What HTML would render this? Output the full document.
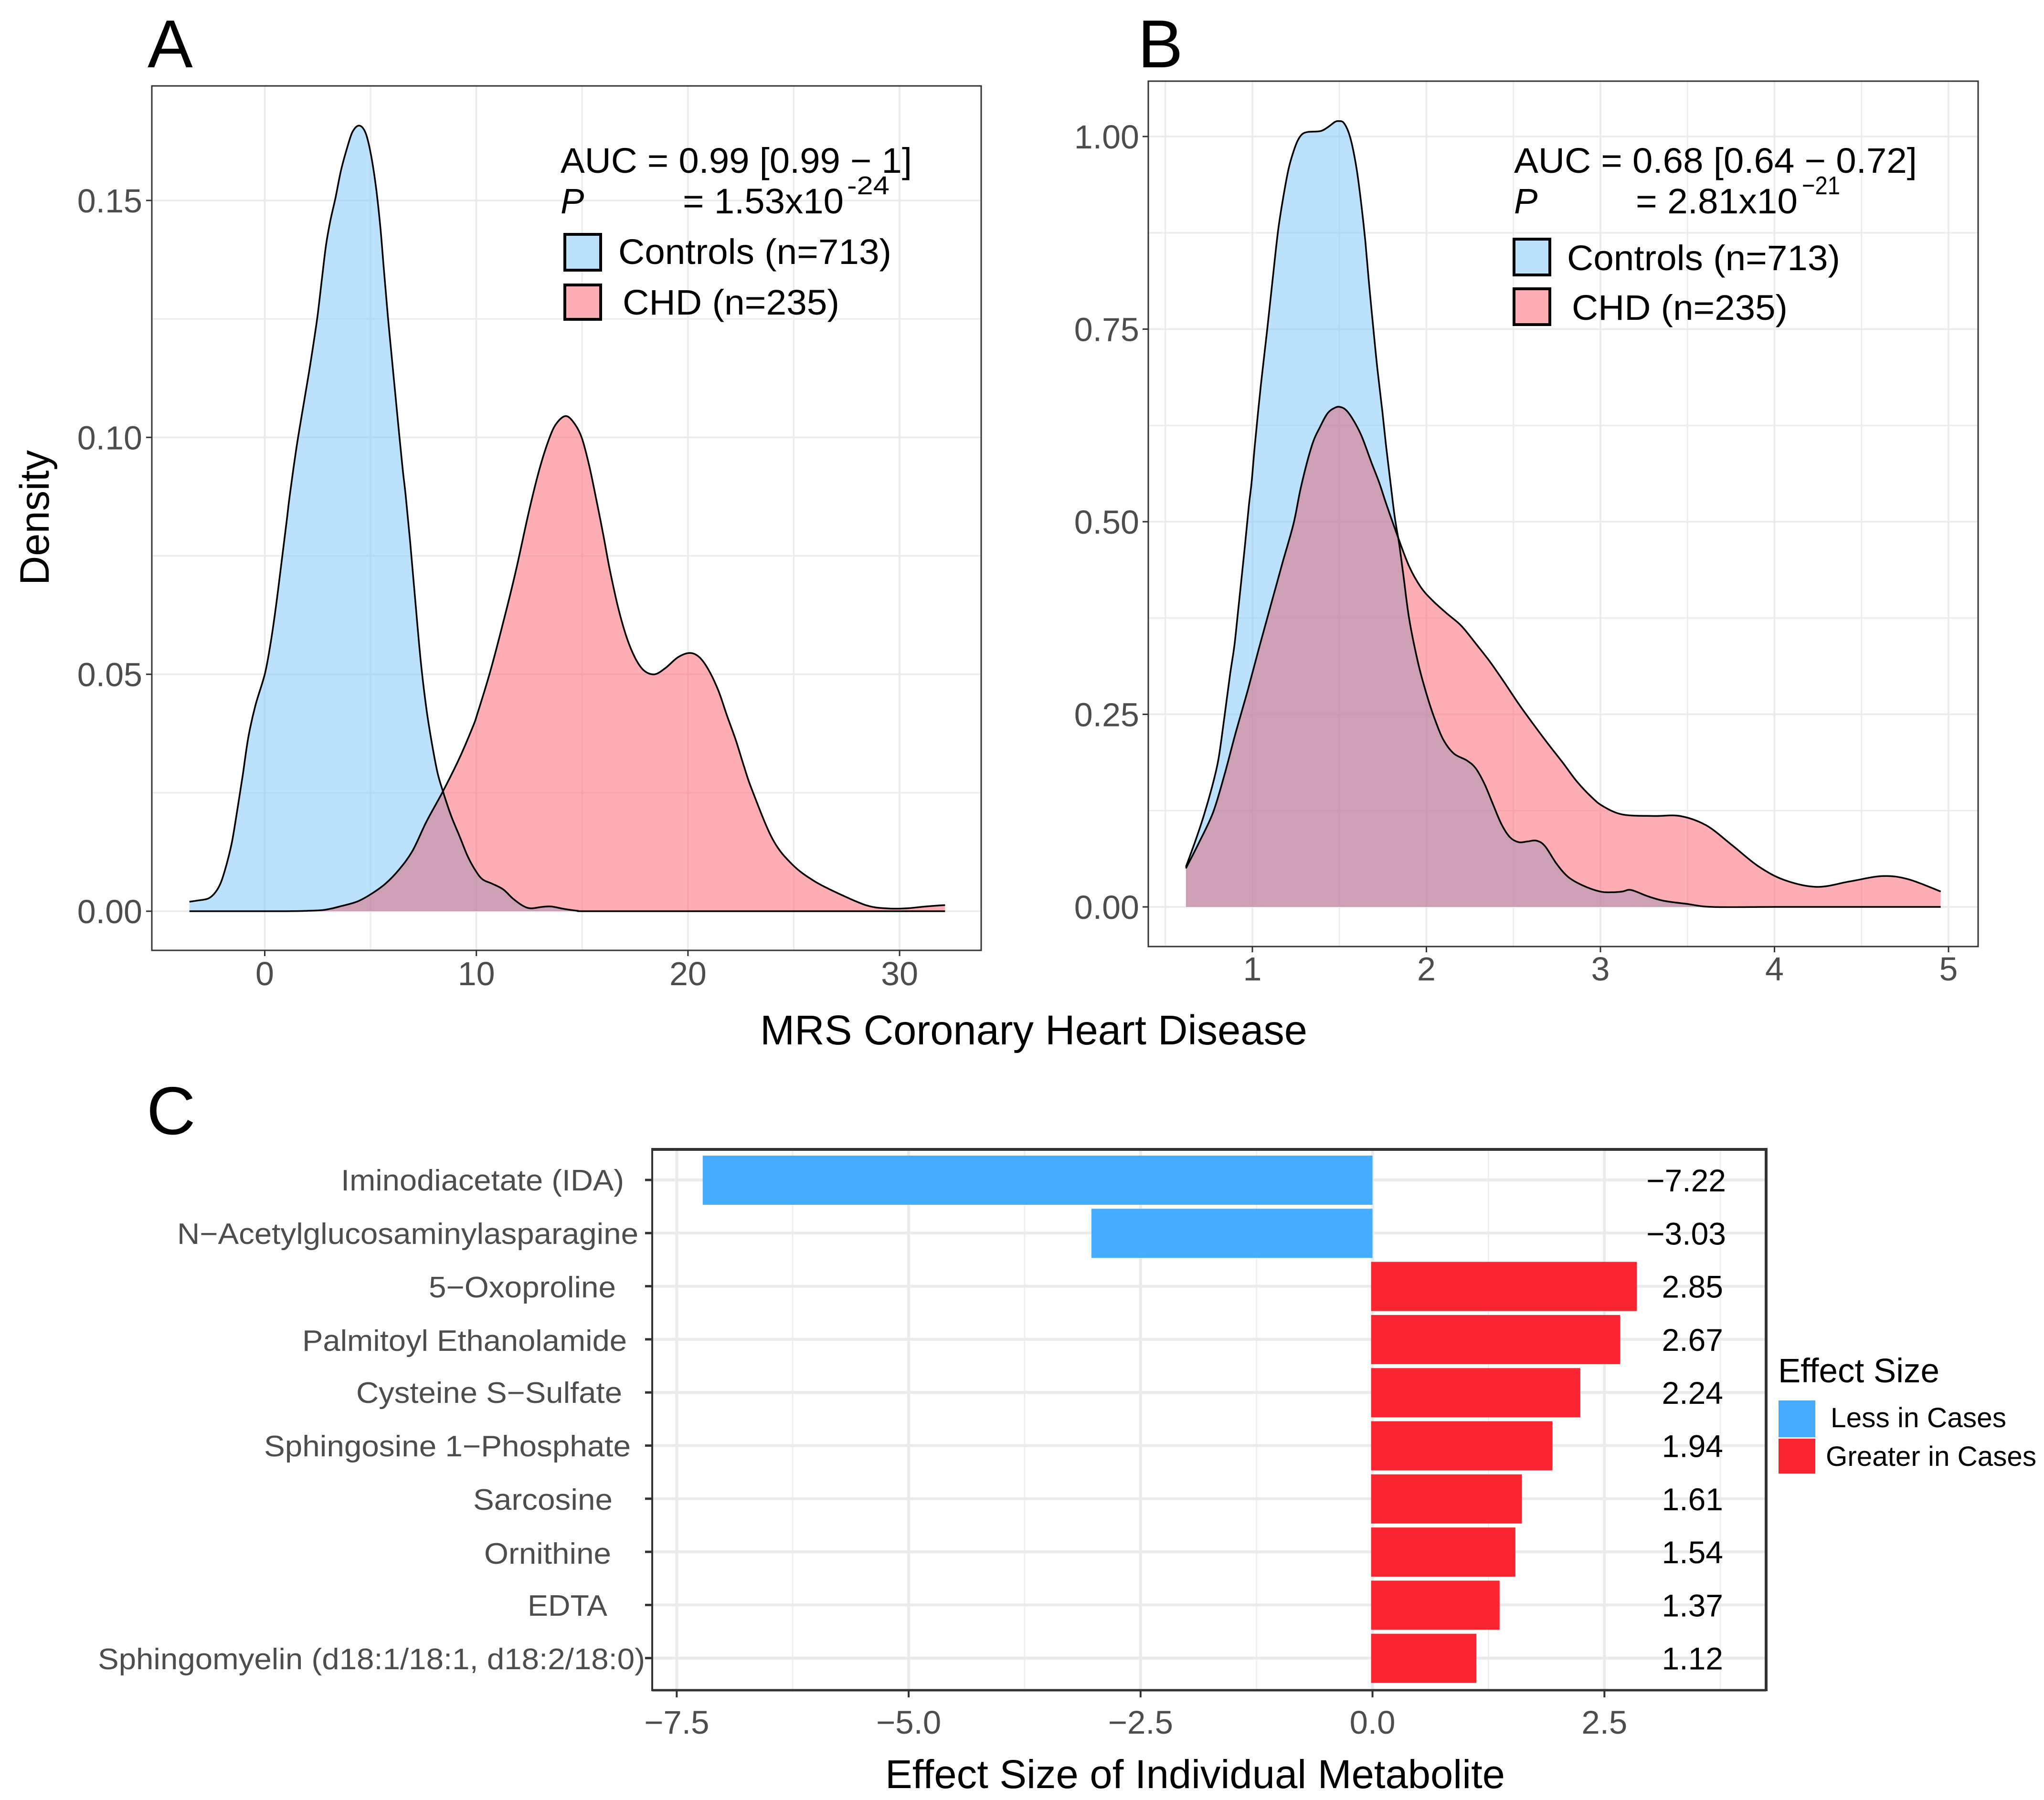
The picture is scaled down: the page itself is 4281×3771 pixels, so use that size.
<!DOCTYPE html>
<html lang="en">
<head>
<meta charset="utf-8">
<title>MRS Coronary Heart Disease density plots and metabolite effect sizes</title>
<style>
html,body{margin:0;padding:0;background:#fff;}
svg{display:block;}
text{font-family:"Liberation Sans",sans-serif;}
</style>
</head>
<body>
<svg id="figure" xmlns="http://www.w3.org/2000/svg" width="4281" height="3771" viewBox="0 0 4281 3771">
<rect x="0" y="0" width="4281" height="3771" fill="#ffffff"/>

<g id="panelA"></g>
<g id="panelB"></g>
<g id="panelC"></g>

<text x="309" y="141" font-size="142" fill="#000">A</text>
<text x="2383" y="141" font-size="142" fill="#000">B</text>
<text x="307" y="2376" font-size="142" fill="#000">C</text>

<text transform="translate(102 1226) rotate(-90)" font-size="86" fill="#000" textLength="283" lengthAdjust="spacingAndGlyphs">Density</text>
<text x="1592" y="2188" font-size="87" fill="#000" textLength="1146" lengthAdjust="spacingAndGlyphs">MRS Coronary Heart Disease</text>

<g fill="#000">
<text x="1174" y="362" font-size="74" textLength="736" lengthAdjust="spacingAndGlyphs">AUC = 0.99 [0.99 − 1]</text>
<text x="1174" y="447" font-size="74" font-style="italic">P</text>
<text x="1430" y="447" font-size="74" textLength="337" lengthAdjust="spacingAndGlyphs">= 1.53x10</text>
<text x="1774" y="407" font-size="54" textLength="89" lengthAdjust="spacingAndGlyphs">-24</text>
<rect x="1183" y="491" width="75" height="75" fill="#BBE1FD" stroke="#000" stroke-width="6"/>
<rect x="1183" y="597" width="75" height="72" fill="#FDAEB4" stroke="#000" stroke-width="6"/>
<text x="1295" y="553" font-size="74" textLength="572" lengthAdjust="spacingAndGlyphs">Controls (n=713)</text>
<text x="1304" y="659" font-size="74" textLength="454" lengthAdjust="spacingAndGlyphs">CHD (n=235)</text>
</g>

<g fill="#000">
<text x="3171" y="362" font-size="74" textLength="844" lengthAdjust="spacingAndGlyphs">AUC = 0.68 [0.64 − 0.72]</text>
<text x="3171" y="447" font-size="74" font-style="italic">P</text>
<text x="3426" y="447" font-size="74" textLength="339" lengthAdjust="spacingAndGlyphs">= 2.81x10</text>
<text x="3774" y="407" font-size="54" textLength="80" lengthAdjust="spacingAndGlyphs">−21</text>
<rect x="3171" y="501" width="75" height="75" fill="#BBE1FD" stroke="#000" stroke-width="6"/>
<rect x="3171" y="605" width="75" height="75" fill="#FDAEB4" stroke="#000" stroke-width="6"/>
<text x="3282" y="566" font-size="74" textLength="572" lengthAdjust="spacingAndGlyphs">Controls (n=713)</text>
<text x="3292" y="670" font-size="74" textLength="452" lengthAdjust="spacingAndGlyphs">CHD (n=235)</text>
</g>

<g fill="#4d4d4d" font-size="62">
<text x="714" y="2494" textLength="593" lengthAdjust="spacingAndGlyphs">Iminodiacetate (IDA)</text>
<text x="371" y="2606" textLength="966" lengthAdjust="spacingAndGlyphs">N−Acetylglucosaminylasparagine</text>
<text x="898" y="2718" textLength="392" lengthAdjust="spacingAndGlyphs">5−Oxoproline</text>
<text x="633" y="2830" textLength="680" lengthAdjust="spacingAndGlyphs">Palmitoyl Ethanolamide</text>
<text x="746" y="2939" textLength="557" lengthAdjust="spacingAndGlyphs">Cysteine S−Sulfate</text>
<text x="553" y="3051" textLength="768" lengthAdjust="spacingAndGlyphs">Sphingosine 1−Phosphate</text>
<text x="991" y="3163" textLength="292" lengthAdjust="spacingAndGlyphs">Sarcosine</text>
<text x="1014" y="3276" textLength="266" lengthAdjust="spacingAndGlyphs">Ornithine</text>
<text x="1105" y="3385" textLength="167" lengthAdjust="spacingAndGlyphs">EDTA</text>
<text x="205" y="3497" textLength="1146" lengthAdjust="spacingAndGlyphs">Sphingomyelin (d18:1/18:1, d18:2/18:0)</text>
</g>

<text x="1854" y="3746" font-size="84" fill="#000" textLength="1298" lengthAdjust="spacingAndGlyphs">Effect Size of Individual Metabolite</text>

<g fill="#000">
<text x="3724" y="2896" font-size="71" textLength="338" lengthAdjust="spacingAndGlyphs">Effect Size</text>
<rect x="3725" y="2934" width="77" height="77" fill="#45ACFF"/>
<rect x="3725" y="3014" width="77" height="73" fill="#F92632"/>
<text x="3834" y="2990" font-size="58" textLength="368" lengthAdjust="spacingAndGlyphs">Less in Cases</text>
<text x="3824" y="3071" font-size="58" textLength="441" lengthAdjust="spacingAndGlyphs">Greater in Cases</text>
</g>
</svg>

<script>
// ---- Panel A data ----
const aControlsX = [-3.56,-3.11,-2.66,-2.33,-2.07,-1.81,-1.55,-1.30,-1.04,-0.78,-0.45,0,0.26,0.52,0.78,1.04,1.18,1.48,1.78,2.09,2.29,2.49,2.69,2.89,3.09,3.35,3.60,3.90,4.15,4.46,4.76,5.01,5.26,5.46,5.61,5.82,5.97,6.17,6.37,6.52,6.66,6.87,7.12,7.38,7.64,7.90,8.16,8.42,8.81,9.20,9.59,9.97,10.30,10.75,11.27,11.72,12.18,12.56,13.08,13.54,14.12,14.77,15.28,20,26,32.15];
const aControlsY = [.0020,.0023,.0027,.0040,.0061,.0098,.0146,.0213,.0287,.0366,.0433,.0500,.0561,.0640,.0732,.0825,.0877,.0973,.1055,.1137,.1194,.1255,.1330,.1404,.1455,.1507,.1563,.1612,.1645,.1658,.1643,.1599,.1527,.1445,.1365,.1255,.1184,.1091,.0999,.0932,.0877,.0780,.0652,.0524,.0427,.0354,.0293,.0253,.0201,.0159,.0116,.0085,.0067,.0058,.0046,.0027,.0012,.0006,.0009,.0010,.0005,.0001,0,0,0,0];
const aChdX = [-3.56,-1,1,2.07,2.85,3.63,4.40,5.05,5.70,6.35,6.99,7.64,8.42,9.20,9.84,10.05,10.65,11.26,11.86,12.47,12.97,13.43,13.78,14.23,14.64,14.99,15.34,15.70,16.00,16.30,16.71,17.11,17.51,17.92,18.42,18.93,19.53,20.09,20.54,20.99,21.45,21.85,22.26,22.66,23.01,23.99,24.92,25.99,27.23,28.46,29.38,30.30,31.23,32.15];
const aChdY = [0,0,0,.0001,.0003,.0011,.0021,.0037,.0058,.0088,.0128,.0189,.0253,.0323,.0390,.0417,.0505,.0608,.0717,.0841,.0931,.0996,.1029,.1045,.1029,.0998,.0939,.0862,.0794,.0722,.0639,.0577,.0534,.0508,.0500,.0513,.0536,.0545,.0536,.0508,.0464,.0412,.0361,.0304,.0258,.0153,.0099,.0063,.0035,.0012,.0006,.0006,.0010,.0013];
const aXTicks = [0,10,20,30];
const aXMinor = [5,15,25];
const aYTicks = [0,0.05,0.10,0.15];
const aYMinor = [0.025,0.075,0.125];
const aYTickLabels = ['0.00','0.05','0.10','0.15'];

// ---- Panel B data ----
const bControlsX = [.618,.673,.723,.773,.806,.839,.872,.897,.922,.955,.980,.996,1.014,1.049,1.084,1.119,1.149,1.182,1.209,1.237,1.261,1.286,1.321,1.391,1.433,1.475,1.499,1.524,1.552,1.575,1.601,1.628,1.649,1.670,1.698,1.719,1.747,1.768,1.793,1.818,1.843,1.868,1.901,1.951,2.001,2.051,2.100,2.158,2.233,2.283,2.333,2.383,2.432,2.482,2.532,2.582,2.632,2.681,2.748,2.814,2.897,2.997,3.063,3.126,3.176,3.270,3.363,3.494,3.644,4,4.5,4.955];
const bControlsY = [.052,.086,.120,.160,.193,.246,.302,.340,.393,.464,.521,.552,.599,.678,.747,.820,.880,.927,.959,.981,.995,1.003,1.006,1.007,1.012,1.019,1.020,1.018,1.006,.987,.955,.908,.864,.810,.744,.697,.643,.599,.552,.506,.472,.430,.374,.318,.276,.242,.216,.199,.190,.180,.160,.133,.107,.090,.084,.085,.086,.079,.056,.039,.028,.020,.019,.020,.022,.014,.008,.004,0,0,0,0];
const bChdX = [.618,.690,.773,.839,.905,.972,1.038,1.105,1.171,1.237,1.28,1.342,1.391,1.433,1.475,1.503,1.538,1.580,1.628,1.684,1.730,1.768,1.835,1.901,1.968,2.034,2.117,2.200,2.283,2.366,2.449,2.532,2.615,2.698,2.781,2.864,2.947,3.013,3.126,3.307,3.457,3.607,3.757,3.906,4.056,4.243,4.431,4.618,4.768,4.955];
const bChdY = [.050,.082,.122,.171,.227,.280,.336,.391,.445,.498,.546,.599,.624,.641,.648,.649,.645,.632,.611,.577,.550,.524,.481,.442,.415,.398,.381,.365,.342,.318,.291,.263,.237,.212,.188,.163,.143,.131,.120,.118,.118,.106,.080,.053,.035,.026,.033,.040,.036,.020];
const bXTicks = [1,2,3,4,5];
const bXMinor = [0.5,1.5,2.5,3.5,4.5];
const bYTicks = [0,0.25,0.5,0.75,1];
const bYMinor = [0.125,0.375,0.625,0.875];
const bYTickLabels = ['0.00','0.25','0.50','0.75','1.00'];

// ---- Panel C data ----
const effectSizes = [-7.22,-3.03,2.85,2.67,2.24,1.94,1.61,1.54,1.37,1.12];
const cXTicks = [-7.5,-5,-2.5,0,2.5];
const cXMinor = [-6.25,-3.75,-1.25,1.25,3.75];
const cXTickLabels = ['−7.5','−5.0','−2.5','0.0','2.5'];

// ---- Axis functions ----
const xA = v => 554.5 + 44.32 * v;
const yA = v => 1909 - 9927 * v;
const xB = v => 2623 + 364.5 * (v - 1);
const yB = v => 1900 - 1614 * v;
const xC = v => 2874.6 + 194.3 * v;
const yC = i => 2472 + 111.3 * i;

const SVGNS = 'http://www.w3.org/2000/svg';
function mk(parent, tag, attrs, txt) {
  const el = document.createElementNS(SVGNS, tag);
  for (const k in attrs) el.setAttribute(k, attrs[k]);
  if (txt !== undefined) el.textContent = txt;
  parent.appendChild(el);
  return el;
}
function smoothPath(px, py) {
  let d = 'M' + px[0].toFixed(1) + ' ' + py[0].toFixed(1);
  for (let i = 0; i < px.length - 1; i++) {
    const a = Math.max(i - 1, 0), b = i + 1, c = Math.min(i + 2, px.length - 1);
    const c1x = px[i] + (px[b] - px[a]) / 6, c1y = py[i] + (py[b] - py[a]) / 6;
    const c2x = px[b] - (px[c] - px[i]) / 6, c2y = py[b] - (py[c] - py[i]) / 6;
    d += 'C' + c1x.toFixed(1) + ' ' + c1y.toFixed(1) + ' ' + c2x.toFixed(1) + ' ' + c2y.toFixed(1) + ' ' + px[b].toFixed(1) + ' ' + py[b].toFixed(1);
  }
  return d;
}

function drawDensityPanel(g, clipId, box, xf, yf, xTicks, xMinor, yTicks, yMinor, yLabels, labelRight, xLabelBase, series) {
  // panel gridlines
  xMinor.forEach(v => {
    const el = mk(g, 'line', {x1: xf(v), x2: xf(v), y1: box.top, y2: box.bottom, stroke: '#ececec', 'stroke-width': 3});
    
    
  });
  yMinor.forEach(v => {
    const el = mk(g, 'line', {x1: box.left, x2: box.right, y1: yf(v), y2: yf(v), stroke: '#ececec', 'stroke-width': 3});
    
    
  });
  xTicks.forEach(v => {
    const el = mk(g, 'line', {x1: xf(v), x2: xf(v), y1: box.top, y2: box.bottom, stroke: '#ebebeb', 'stroke-width': 3.5});
    
    
  });
  yTicks.forEach(v => {
    const el = mk(g, 'line', {x1: box.left, x2: box.right, y1: yf(v), y2: yf(v), stroke: '#ebebeb', 'stroke-width': 3.5});
    
    
  });
  // density areas
  const lines = [], areas = [];
  series.forEach(s => {
    const px = s.x.map(xf), py = s.y.map(yf);
    const line = smoothPath(px, py);
    const area = line + 'L' + px[px.length - 1].toFixed(1) + ' ' + yf(0) + 'L' + px[0].toFixed(1) + ' ' + yf(0) + 'Z';
    lines.push(line);
    areas.push(area);
    const fillEl = mk(g, 'path', {d: area, fill: s.fill, 'fill-opacity': 0.5, stroke: 'none'});
    
    
  });
  // overlap tint: controls area clipped to the CHD area
  const clip = mk(g, 'clipPath', {id: clipId});
  mk(clip, 'path', {d: areas[1]});
  const overlap = mk(g, 'path', {d: areas[0], fill: '#80A6C8', 'fill-opacity': 0.15, stroke: 'none', 'clip-path': 'url(#' + clipId + ')'});
  
  
  // outlines
  series.forEach((s, i) => {
    const lineEl = mk(g, 'path', {d: lines[i], fill: 'none', stroke: '#000', 'stroke-width': 3.5});
    
    
  });
  // panel border
  const border = mk(g, 'rect', {x: box.left, y: box.top, width: box.right - box.left, height: box.bottom - box.top, fill: 'none', stroke: '#333', 'stroke-width': 3});
  
  
  // ticks and labels
  xTicks.forEach(v => {
    const t = mk(g, 'line', {x1: xf(v), x2: xf(v), y1: box.bottom, y2: box.bottom + 12, stroke: '#333', 'stroke-width': 3});
    
    
    const l = mk(g, 'text', {x: xf(v), y: xLabelBase, 'text-anchor': 'middle', 'font-size': 70, fill: '#4d4d4d'}, String(v));
    
    
  });
  yTicks.forEach((v, i) => {
    const t = mk(g, 'line', {x1: box.left - 12, x2: box.left, y1: yf(v), y2: yf(v), stroke: '#333', 'stroke-width': 3});
    
    
    const l = mk(g, 'text', {x: labelRight, y: yf(v) + 25, 'text-anchor': 'end', 'font-size': 70, fill: '#4d4d4d'}, yLabels[i]);
    
    
  });
}

drawDensityPanel(document.getElementById('panelA'), 'clipChdA',
  {left: 318, right: 2055, top: 180, bottom: 1991}, xA, yA,
  aXTicks, aXMinor, aYTicks, aYMinor, aYTickLabels, 298, 2064,
  [{name: 'controls', x: aControlsX, y: aControlsY, fill: '#77C3FB'},
   {name: 'chd', x: aChdX, y: aChdY, fill: '#FB5D69'}]);

drawDensityPanel(document.getElementById('panelB'), 'clipChdB',
  {left: 2405, right: 4143, top: 170, bottom: 1983}, xB, yB,
  bXTicks, bXMinor, bYTicks, bYMinor, bYTickLabels, 2386, 2054,
  [{name: 'controls', x: bControlsX, y: bControlsY, fill: '#77C3FB'},
   {name: 'chd', x: bChdX, y: bChdY, fill: '#FB5D69'}]);

// ---- Panel C ----
(function () {
  const g = document.getElementById('panelC');
  const box = {left: 1366, right: 3699, top: 2408, bottom: 3541};
  cXMinor.forEach(v => {
    const el = mk(g, 'line', {x1: xC(v), x2: xC(v), y1: box.top, y2: box.bottom, stroke: '#efefef', 'stroke-width': 3});
    
    
  });
  cXTicks.forEach(v => {
    const el = mk(g, 'line', {x1: xC(v), x2: xC(v), y1: box.top, y2: box.bottom, stroke: '#ebebeb', 'stroke-width': 6});
    
    
  });
  effectSizes.forEach((v, i) => {
    const el = mk(g, 'line', {x1: box.left, x2: box.right, y1: yC(i), y2: yC(i), stroke: '#ebebeb', 'stroke-width': 6});
    
    
  });
  effectSizes.forEach((v, i) => {
    const x0 = v < 0 ? xC(v) : xC(0) - 3;
    const w = v < 0 ? xC(0) - xC(v) : xC(v) - x0;
    const bar = mk(g, 'rect', {x: x0, y: yC(i) - 51, width: w, height: 103, fill: v < 0 ? '#45ACFF' : '#F92632'});
    
    
    const printed = (v < 0 ? '−' : '') + Math.abs(v).toFixed(2);
    const lab = mk(g, 'text', {x: v < 0 ? 3615 : 3609, y: yC(i) + 24, 'text-anchor': 'end', 'font-size': 66, fill: '#000'}, printed);
    
    
    const t = mk(g, 'line', {x1: box.left - 15, x2: box.left, y1: yC(i), y2: yC(i), stroke: '#333', 'stroke-width': 5});
    
    
  });
  cXTicks.forEach((v, i) => {
    const t = mk(g, 'line', {x1: xC(v), x2: xC(v), y1: box.bottom, y2: box.bottom + 15, stroke: '#333', 'stroke-width': 4});
    
    
    const l = mk(g, 'text', {x: xC(v), y: 3632, 'text-anchor': 'middle', 'font-size': 69, fill: '#4d4d4d'}, cXTickLabels[i]);
    
    
  });
  const edgeLeft = mk(g, 'line', {x1: box.left, x2: box.left, y1: box.top - 3, y2: box.bottom + 2, stroke: '#333', 'stroke-width': 4});
  
  
  const edgeBottom = mk(g, 'line', {x1: box.left, x2: box.right, y1: box.bottom, y2: box.bottom, stroke: '#333', 'stroke-width': 5});
  
  
  const edgeTop = mk(g, 'line', {x1: box.left, x2: box.right + 3, y1: box.top, y2: box.top, stroke: '#333', 'stroke-width': 6});
  
  
  const edgeRight = mk(g, 'line', {x1: box.right, x2: box.right, y1: box.top, y2: box.bottom + 2, stroke: '#333', 'stroke-width': 6});
  
  
})();
</script>
</body>
</html>
